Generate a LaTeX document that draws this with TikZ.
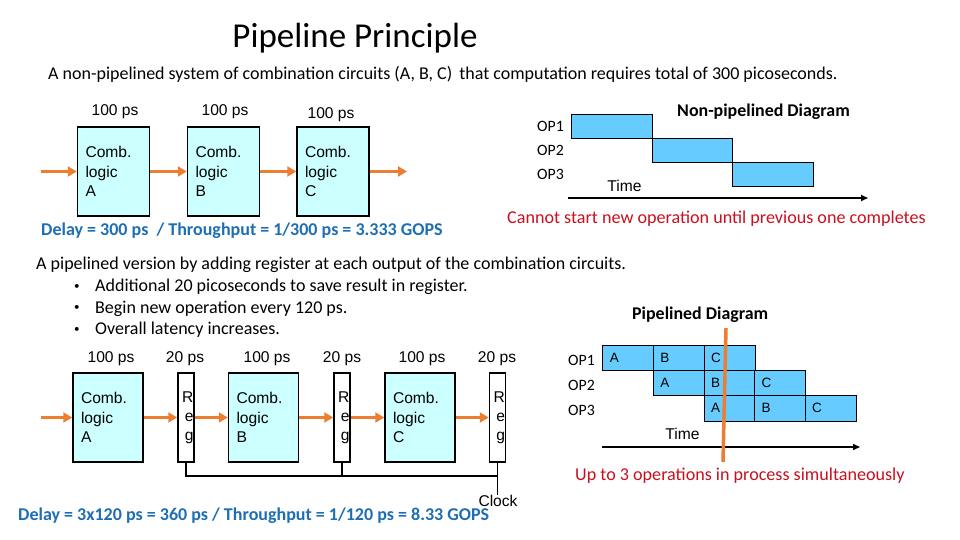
\documentclass[tikz,border=0pt]{standalone}
\usepackage{fontspec}
\setmainfont{Carlito}
\newfontfamily\arialfont{Liberation Sans}
\usetikzlibrary{arrows.meta,positioning}

\definecolor{combfill}{RGB}{204,255,255}
\definecolor{barfill}{RGB}{102,204,255}
\definecolor{floworange}{RGB}{237,125,49}
\definecolor{delayblue}{RGB}{30,110,180}
\definecolor{noteRed}{RGB}{200,16,30}

\tikzset{
  comb/.style={draw, line width=1.5pt, fill=combfill, minimum width=72, minimum height=89,
    text width=56, inner xsep=8, inner ysep=0, align=left,
    font=\arialfont\fontsize{15.6}{19.5}\selectfont},
  regbox/.style={draw, line width=1.5pt, fill=white, minimum width=16, minimum height=89,
    text width=15, inner sep=0, align=right,
    font=\arialfont\fontsize{15.6}{19.2}\selectfont},
  timing/.style={font=\arialfont\fontsize{15.6}{18}\selectfont, inner sep=0},
  flow/.style={floworange, line width=3.5pt, -{Triangle[length=9pt,width=10pt]}},
  bar/.style={draw, line width=0.8pt, fill=barfill, minimum width=80.5, minimum height=24, inner sep=0},
  cell/.style={draw, line width=0.8pt, fill=barfill, minimum width=50.6, minimum height=25.3,
    text width=37, inner xsep=7, inner ysep=0, align=left,
    font=\arialfont\fontsize{13.5}{16}\selectfont},
  oplabel/.style={anchor=west, inner sep=0, font=\fontsize{15.8}{18}\selectfont},
  timeaxis/.style={line width=1.5pt, -{Triangle[length=7pt,width=6pt]}},
  delaytext/.style={anchor=west, inner sep=0, text=delayblue, font=\bfseries\fontsize{18}{21}\selectfont},
  note/.style={anchor=west, inner sep=0, text=noteRed, font=\fontsize{18.1}{21}\selectfont},
  heading/.style={anchor=west, inner sep=0, font=\bfseries\fontsize{17.9}{21}\selectfont},
  body/.style={anchor=west, inner sep=0, font=\fontsize{18}{21}\selectfont}
}

\begin{document}
\begin{tikzpicture}[x=1pt,y=-1pt]
  \useasboundingbox (0,0) rectangle (960,540);

  % Title and introduction
  \node[inner sep=0, font=\fontsize{35}{40}\selectfont] (title) at (355,38) {Pipeline Principle};
  \node[body] (intro) at (48,74) {A non-pipelined system of combination circuits (A, B, C)\, that computation requires total of 300 picoseconds.};

  % Non-pipelined circuit
  \node[comb] (cA) at (113.5,171.5) {Comb.\\logic\\A};
  \node[comb] (cB) at (223.5,171.5) {Comb.\\logic\\B};
  \node[comb] (cC) at (333,171.5) {Comb.\\logic\\C};
  \node[timing] (tA) at (115,112) {100 ps};
  \node[timing] (tB) at (225,112) {100 ps};
  \node[timing] (tC) at (331,115) {100 ps};

  \coordinate (in1) at (41,171.5);
  \coordinate (out1) at (407,171.5);
  \draw[flow] (in1) -- (cA.west);
  \draw[flow] (cA.east) -- (cB.west);
  \draw[flow] (cB.east) -- (cC.west);
  \draw[flow] (cC.east) -- (out1);

  \node[delaytext] (delay1) at (41,231) {Delay = 300 ps\ \ / Throughput = 1/300 ps = 3.333 GOPS};

  % Non-pipelined diagram
  \node[heading] (nphead) at (677,112) {Non-pipelined Diagram};
  \node[bar] (np1) at (612,126) {};
  \node[bar] (np2) at (692.5,150) {};
  \node[bar] (np3) at (773,174) {};
  \node[oplabel] (nop1) at (537,126) {OP1};
  \node[oplabel] (nop2) at (537,150) {OP2};
  \node[oplabel] (nop3) at (537,174) {OP3};
  \node[timing] (nptime) at (624.5,186) {Time};
  \draw[timeaxis] (568,198) -- (868,198);
  \node[note] (npnote) at (507,219) {Cannot start new operation until previous one completes};

  % Pipelined description
  \node[body] (pipe) at (36,265) {A pipelined version by adding register at each output of the combination circuits.};
  \foreach \txt [count=\i] in {Additional 20 picoseconds to save result in register.,
                               Begin new operation every 120 ps.,
                               Overall latency increases.} {
    \node[body, font=\fontsize{11}{13}\selectfont] (dot\i) at (74,265+21.7*\i) {\textbullet};
    \node[body] (item\i) at (95,265+21.7*\i) {\txt};
  }

  % Pipelined circuit
  \node[comb, minimum width=70, text width=54] (pA) at (108,417.5) {Comb.\\logic\\A};
  \node[regbox] (r1) at (186,417.5) {R\\e\\g};
  \node[comb, minimum width=70, text width=54] (pB) at (263.5,417.5) {Comb.\\logic\\B};
  \node[regbox] (r2) at (342,417.5) {R\\e\\g};
  \node[comb, minimum width=70, text width=54] (pC) at (420,417.5) {Comb.\\logic\\C};
  \node[regbox] (r3) at (497.5,417.5) {R\\e\\g};
  \foreach \x/\t [count=\i] in {111/100 ps,185/20 ps,267/100 ps,342/20 ps,422/100 ps,497/20 ps}
    \node[timing] (pt\i) at (\x,359) {\t};

  \coordinate (in2) at (41,417.5);
  \draw[flow] (in2) -- (pA.west);
  \draw[flow] (pA.east) -- (r1.west);
  \draw[flow] (r1.east) -- (pB.west);
  \draw[flow] (pB.east) -- (r2.west);
  \draw[flow] (r2.east) -- (pC.west);
  \draw[flow] (pC.east) -- (r3.west);

  % Clock lines
  \node[timing] (clock) at (498,501) {Clock};
  \draw[line width=1.5pt] (r1.south) |- (r3.south |- 0,476);
  \draw[line width=1.5pt] (r2.south) -- (r2.south |- 0,476);
  \draw[line width=1.5pt] (r3.south) -- (r3.south |- clock.north);

  \node[delaytext] (delay2) at (18,516) {Delay = 3x120 ps = 360 ps / Throughput = 1/120 ps = 8.33 GOPS};

  % Pipelined diagram
  \node[heading] (phead) at (632,315) {Pipelined Diagram};
  \foreach \op in {1,2,3} {
    \node[oplabel] (pop\op) at (568,335+25.3*\op) {OP\op};
    \foreach \st [count=\k from 0] in {A,B,C}
      \node[cell] (p\op\st) at (628.3+50.6*\op-50.6+50.6*\k, 357.65+25.3*\op-25.3) {\st};
  }
  \node[timing] (ptime) at (682.5,434) {Time};
  \draw[timeaxis] (602,447) -- (860,447);
  \draw[floworange, line width=3.5pt] (726,328) -- (723,462);
  \node[note] (pnote) at (575,476) {Up to 3 operations in process simultaneously};
\end{tikzpicture}
\end{document}
